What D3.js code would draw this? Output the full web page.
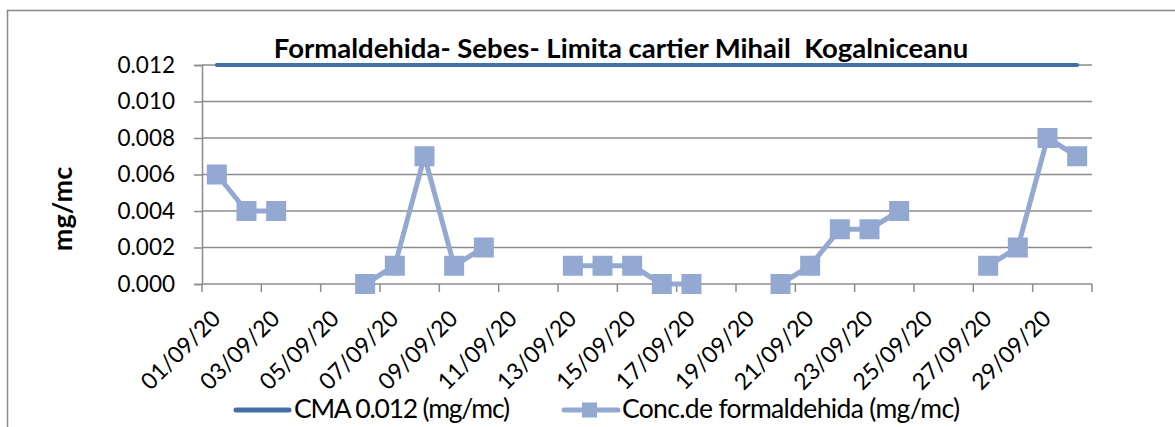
<!DOCTYPE html>
<html>
<head>
<meta charset="utf-8">
<script src="https://cdn.jsdelivr.net/npm/d3@7"></script>
<style>
  body { margin: 0; background: #fff; }
  svg { display: block; font-family: Lato, "Open Sans", sans-serif; }
  text { white-space: pre; }
</style>
</head>
<body>
<svg id="chart" width="1175" height="427"></svg>
<script>
// category labels (one per day)
var days = ['01/09/20','02/09/20','03/09/20','04/09/20','05/09/20','06/09/20','07/09/20','08/09/20','09/09/20','10/09/20',
            '11/09/20','12/09/20','13/09/20','14/09/20','15/09/20','16/09/20','17/09/20','18/09/20','19/09/20','20/09/20',
            '21/09/20','22/09/20','23/09/20','24/09/20','25/09/20','26/09/20','27/09/20','28/09/20','29/09/20','30/09/20'];
// measured concentration, null = no measurement
var conc = [0.006, 0.004, 0.004, null, null, 0.000, 0.001, 0.007, 0.001, 0.002,
            null, null, 0.001, 0.001, 0.001, 0.000, 0.000, null, null, 0.000,
            0.001, 0.003, 0.003, 0.004, null, null, 0.001, 0.002, 0.008, 0.007];
var cma = days.map(function () { return 0.012; });
var yTicks = [0, 0.002, 0.004, 0.006, 0.008, 0.010, 0.012];

var title = 'Formaldehida- Sebes- Limita cartier Mihail  Kogalniceanu';
var seriesNames = ['CMA 0.012 (mg/mc)', 'Conc.de formaldehida (mg/mc)'];

var cmaColor = '#4470a8',
    concColor = '#93a9d2',
    gridColor = '#8c8c8c';

var svg = d3.select('#chart');

// chart border (extends past the picture on right / bottom)
svg.append('rect')
    .attr('x', 7.5).attr('y', 10.5)
    .attr('width', 1300).attr('height', 500)
    .attr('fill', 'none').attr('stroke', '#888').attr('stroke-width', 1.5);

var plotL = 202, plotR = 1092, plotT = 65, plotB = 284;

var x = d3.scaleBand().domain(days).range([plotL, plotR]).padding(0);
var y = d3.scaleLinear().domain([0, 0.012]).range([plotB, plotT]);
var cx = function (d) { return x(d) + x.bandwidth() / 2; };

// gridlines
svg.append('g').selectAll('line')
    .data(yTicks.slice(1))
    .join('line')
    .attr('x1', plotL).attr('x2', plotR)
    .attr('y1', function (d) { return y(d); }).attr('y2', function (d) { return y(d); })
    .attr('stroke', gridColor).attr('stroke-width', 1.5);

// y axis
var yAxis = svg.append('g')
    .attr('transform', 'translate(' + plotL + ',0)')
    .call(d3.axisLeft(y).tickValues(yTicks).tickFormat(d3.format('.3f')).tickSize(8).tickPadding(19));
yAxis.select('.domain').attr('stroke', gridColor).attr('stroke-width', 1.5);
yAxis.selectAll('.tick line').attr('stroke', gridColor).attr('stroke-width', 1.5);
yAxis.selectAll('.tick text').attr('font-size', 22.5).attr('fill', '#000').attr('font-family', 'Lato');

// x axis: tick marks every second day boundary
var xAxisG = svg.append('g');
xAxisG.append('line')
    .attr('x1', plotL).attr('x2', plotR).attr('y1', plotB).attr('y2', plotB)
    .attr('stroke', gridColor).attr('stroke-width', 1.5);
var tickIdx = d3.range(0, days.length + 1, 2);
xAxisG.selectAll('line.tk')
    .data(tickIdx)
    .join('line').attr('class', 'tk')
    .attr('x1', function (i) { return plotL + i * x.step(); })
    .attr('x2', function (i) { return plotL + i * x.step(); })
    .attr('y1', plotB).attr('y2', plotB + 8)
    .attr('stroke', gridColor).attr('stroke-width', 1.5);

xAxisG.selectAll('text')
    .data(days.filter(function (d, i) { return i % 2 === 0; }))
    .join('text')
    .attr('transform', function (d) { return 'translate(' + (cx(d) + 5) + ',' + (plotB + 36) + ') rotate(-45)'; })
    .attr('text-anchor', 'end')
    .attr('font-size', 23)
    .text(function (d) { return d; });

// CMA line
svg.append('path')
    .datum(cma)
    .attr('fill', 'none').attr('stroke', cmaColor).attr('stroke-width', 4).attr('stroke-linecap', 'round')
    .attr('d', d3.line()
        .x(function (d, i) { return cx(days[i]); })
        .y(function (d) { return y(d); }));

// concentration line with gaps
svg.append('path')
    .datum(conc)
    .attr('fill', 'none').attr('stroke', concColor).attr('stroke-width', 5).attr('stroke-linejoin', 'round')
    .attr('d', d3.line()
        .defined(function (d) { return d !== null; })
        .x(function (d, i) { return cx(days[i]); })
        .y(function (d) { return y(d); }));

var ms = 20;
svg.append('g').selectAll('rect')
    .data(conc.map(function (v, i) { return { v: v, day: days[i] }; }).filter(function (d) { return d.v !== null; }))
    .join('rect')
    .attr('x', function (d) { return cx(d.day) - ms / 2; })
    .attr('y', function (d) { return y(d.v) - ms / 2; })
    .attr('width', ms).attr('height', ms)
    .attr('fill', concColor);

// title
svg.append('text')
    .attr('x', 621).attr('y', 58)
    .attr('text-anchor', 'middle')
    .attr('font-size', 27.5).attr('font-weight', 'bold')
    .text(title);

// y axis title
svg.append('text')
    .attr('transform', 'translate(72,209) rotate(-90)')
    .attr('text-anchor', 'middle')
    .attr('font-size', 27).attr('font-weight', 'bold')
    .text('mg/mc');

// legend
var ly = 410;
var leg = svg.append('g');
leg.append('line')
    .attr('x1', 236).attr('x2', 289).attr('y1', ly).attr('y2', ly)
    .attr('stroke', cmaColor).attr('stroke-width', 5).attr('stroke-linecap', 'round');
leg.append('text').attr('x', 294).attr('y', 418).attr('font-size', 26.5)
    .attr('textLength', 216).attr('lengthAdjust', 'spacing').text(seriesNames[0]);
leg.append('line')
    .attr('x1', 564).attr('x2', 618).attr('y1', ly).attr('y2', ly)
    .attr('stroke', concColor).attr('stroke-width', 5).attr('stroke-linecap', 'round');
leg.append('rect')
    .attr('x', 582).attr('y', ly - 7.5).attr('width', 15).attr('height', 15)
    .attr('fill', concColor);
leg.append('text').attr('x', 622).attr('y', 418).attr('font-size', 26.5)
    .attr('textLength', 338).attr('lengthAdjust', 'spacing').text(seriesNames[1]);
</script>
</body>
</html>
